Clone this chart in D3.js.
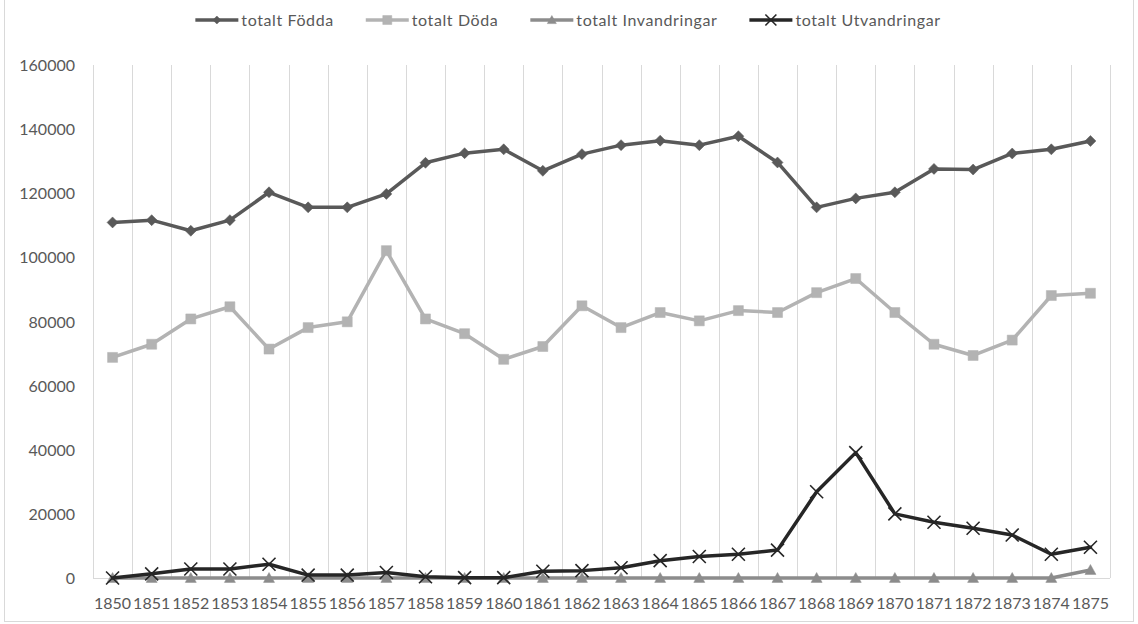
<!DOCTYPE html>
<html>
<head>
<meta charset="utf-8">
<script src="https://cdn.jsdelivr.net/npm/d3@7/dist/d3.min.js"></script>
<style>
  html, body { margin: 0; padding: 0; background: #fff; }
  svg { display: block; font-family: Lato, "Open Sans", sans-serif; }
</style>
</head>
<body>
<svg id="chart" width="1138" height="624"></svg>
<script>
const years = ["1850","1851","1852","1853","1854","1855","1856","1857","1858","1859","1860","1861","1862","1863","1864","1865","1866","1867","1868","1869","1870","1871","1872","1873","1874","1875"];
const fodda = [110900,111600,108300,111600,120300,115600,115600,119800,129500,132500,133700,127000,132200,135000,136400,135000,137800,129600,115600,118400,120300,127600,127400,132400,133700,136300];
const doda = [68800,72900,80800,84600,71400,78100,79900,102100,80800,76200,68200,72200,84900,78100,82800,80200,83400,82800,89000,93400,82800,72900,69400,74200,88100,88800];
const invandringar = [0,0,0,0,0,0,0,0,0,0,0,0,0,0,0,0,0,0,0,0,0,0,0,0,0,2500];
const utvandringar = [0,1300,2800,2800,4300,900,900,1700,400,100,100,2100,2300,3200,5400,6700,7400,8700,26900,39100,20000,17400,15500,13400,7400,9600];
const yTicks = [0,20000,40000,60000,80000,100000,120000,140000,160000];
const seriesNames = ["totalt Födda","totalt Döda","totalt Invandringar","totalt Utvandringar"];

const series = [
  {name: seriesNames[0], values: fodda, color: "#595959", marker: "diamond"},
  {name: seriesNames[1], values: doda, color: "#b3b3b3", marker: "square"},
  {name: seriesNames[2], values: invandringar, color: "#8c8c8c", marker: "triangle"},
  {name: seriesNames[3], values: utvandringar, color: "#262626", marker: "x"}
];

const svg = d3.select("#chart");
const plot = {left: 93, right: 1110, top: 65, bottom: 578};

// chart border
svg.append("rect").attr("x", 4.5).attr("y", -2).attr("width", 1129).attr("height", 623.5)
  .attr("fill", "none").attr("stroke", "#d9d9d9").attr("stroke-width", 1);

const x = d3.scaleBand().domain(years).range([plot.left, plot.right]).padding(0);
const y = d3.scaleLinear().domain([0, 160000]).range([plot.bottom, plot.top]);
const cx = yr => x(yr) + x.bandwidth() / 2;

// vertical gridlines at category boundaries
const bounds = years.map(yr => x(yr)).concat([plot.right]);
svg.append("g").selectAll("line").data(bounds).join("line")
  .attr("x1", d => Math.round(d) + 0.5).attr("x2", d => Math.round(d) + 0.5)
  .attr("y1", plot.top).attr("y2", plot.bottom)
  .attr("stroke", "#d9d9d9").attr("stroke-width", 1);

// x axis line
svg.append("line").attr("x1", plot.left).attr("x2", plot.right)
  .attr("y1", y(0) + 0.5).attr("y2", y(0) + 0.5)
  .attr("stroke", "#d9d9d9").attr("stroke-width", 1);

// y axis labels
const yAxis = svg.append("g").attr("transform", `translate(${plot.left},0)`)
  .call(d3.axisLeft(y).tickValues(yTicks).tickSize(0).tickPadding(18).tickFormat(d3.format("d")));
yAxis.select(".domain").remove();
yAxis.selectAll("text").attr("fill", "#595959").attr("font-size", 16)
  .attr("font-family", "Lato, sans-serif").attr("dy", "0.35em");

// x axis labels
const xAxis = svg.append("g").attr("transform", `translate(0,${plot.bottom})`)
  .call(d3.axisBottom(x).tickSize(0).tickPadding(18));
xAxis.select(".domain").remove();
xAxis.selectAll("text").attr("fill", "#595959").attr("font-size", 16)
  .attr("font-family", "Lato, sans-serif").attr("dy", "0.35em").attr("y", 25);

function markerPath(type, s) {
  const h = s / 2;
  if (type === "diamond") return `M0,${-h}L${h},0L0,${h}L${-h},0Z`;
  if (type === "square") return `M${-h},${-h}H${h}V${h}H${-h}Z`;
  if (type === "triangle") return `M0,${-h}L${h},${h * 0.8}L${-h},${h * 0.8}Z`;
  if (type === "x") return `M${-h},${-h}L${h},${h}M${h},${-h}L${-h},${h}`;
}
const markerSize = {diamond: 11, square: 10, triangle: 11, x: 13};

const line = d3.line().x((d, i) => cx(years[i])).y(d => y(d));

series.forEach(s => {
  const g = svg.append("g");
  g.append("path").datum(s.values).attr("d", line)
    .attr("fill", "none").attr("stroke", s.color).attr("stroke-width", 3.5)
    .attr("stroke-linejoin", "round").attr("stroke-linecap", "round");
  g.selectAll("path.m").data(s.values).join("path").attr("class", "m")
    .attr("transform", (d, i) => `translate(${cx(years[i])},${y(d)})`)
    .attr("d", markerPath(s.marker, markerSize[s.marker]))
    .attr("fill", s.marker === "x" ? "none" : s.color)
    .attr("stroke", s.color)
    .attr("stroke-width", s.marker === "x" ? 1.6 : 0.5);
});

// legend
const legend = svg.append("g");
const legendSize = {diamond: 8, square: 9, triangle: 9, x: 11};
let lx = 0;
const items = series.map(s => {
  const g = legend.append("g");
  g.append("line").attr("x1", 0).attr("x2", 43).attr("y1", 0).attr("y2", 0)
    .attr("stroke", s.color).attr("stroke-width", 3.5);
  g.append("path").attr("transform", "translate(21.5,0)")
    .attr("d", markerPath(s.marker, legendSize[s.marker]))
    .attr("fill", s.marker === "x" ? "none" : s.color)
    .attr("stroke", s.color).attr("stroke-width", s.marker === "x" ? 1.6 : 0.5);
  const t = g.append("text").attr("x", 46).attr("y", 0).attr("dy", "0.35em")
    .attr("fill", "#595959").attr("font-size", 16).attr("letter-spacing", 0.6)
    .attr("font-family", "Lato, sans-serif").text(s.name);
  const w = 46 + t.node().getComputedTextLength();
  g.attr("transform", `translate(${lx},20)`);
  lx += w + 32;
  return w;
});
const total = lx - 32;
legend.attr("transform", `translate(${568 - total / 2},0)`);
</script>
</body>
</html>
